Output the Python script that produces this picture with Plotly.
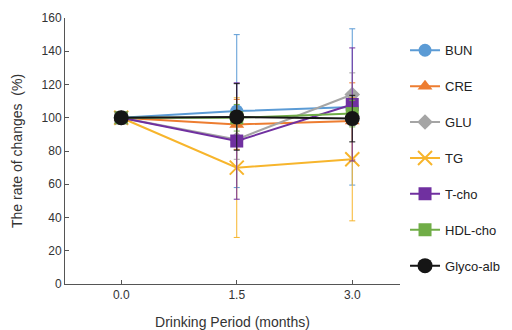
import plotly.graph_objects as go

months = [0.0, 1.5, 3.0]
tick_labels = ["0.0", "1.5", "3.0"]

names = ["BUN", "CRE", "GLU", "TG", "T-cho", "HDL-cho", "Glyco-alb"]
bun = [100, 104, 106.5]
cre = [100, 96, 98]
glu = [100, 87, 114]
tg = [100, 70, 75]
tcho = [100, 86, 108]
hdl = [100, 100, 102.5]
glyco = [100, 100.5, 99.5]

bun_err = [0, 46, 47]
cre_err = [0, 15, 23]
glu_err = [0, 12, 13]
tg_err = [0, 42, 37]
tcho_err = [0, 35, 34]
hdl_err = [0, 8, 8]
glyco_err = [0, 20, 14]

series = [bun, cre, glu, tg, tcho, hdl, glyco]
errors = [bun_err, cre_err, glu_err, tg_err, tcho_err, hdl_err, glyco_err]
colors = ["#5B9BD5", "#ED7D31", "#A5A5A5", "#F7B52C", "#7030A0", "#70AD47", "#151515"]
symbols = ["circle", "triangle-up", "diamond", "x-thin-open", "square", "square", "circle"]
sizes = [13, 13, 12, 14, 13, 13, 15]

fig = go.Figure()
for n, y, e, c, s, sz in zip(names, series, errors, colors, symbols, sizes):
    marker = dict(symbol=s, size=sz, color=c)
    if s == "x-thin-open":
        marker["line"] = dict(color=c, width=2)
    fig.add_trace(go.Scatter(
        x=months, y=y, name=n, mode="lines+markers",
        line=dict(color=c, width=2), marker=marker,
        error_y=dict(type="data", array=e, visible=True, color=c, thickness=1, width=3),
        legendgroup=n,
    ))

fig.update_layout(
    width=512, height=330,
    margin=dict(l=65, r=112, t=18, b=46, autoexpand=False),
    plot_bgcolor="white", paper_bgcolor="white",
    font=dict(family="Liberation Sans, Arial, sans-serif", size=12, color="#333"),
    showlegend=True,
    legend=dict(x=1.015, y=0.935, xanchor="left", yanchor="top",
                font=dict(size=13, color="#222"), tracegroupgap=16,
                itemwidth=30),
)
fig.update_xaxes(
    range=[-0.73, 3.62], tickvals=months, ticktext=tick_labels,
    showline=True, linecolor="#555", linewidth=1, ticks="inside", ticklen=4,
    tickcolor="#555", showgrid=False, zeroline=False, automargin=False,
    title=dict(text="Drinking Period (months)", font=dict(size=14, color="#333")),
)
fig.update_yaxes(
    range=[0, 160], dtick=20,
    showline=True, linecolor="#555", linewidth=1, ticks="inside", ticklen=4,
    tickcolor="#555", showgrid=False, zeroline=False, automargin=False,
    title=dict(text="The rate of changes  (%)", font=dict(size=14, color="#333")),
)

fig.write_html("out.html")
